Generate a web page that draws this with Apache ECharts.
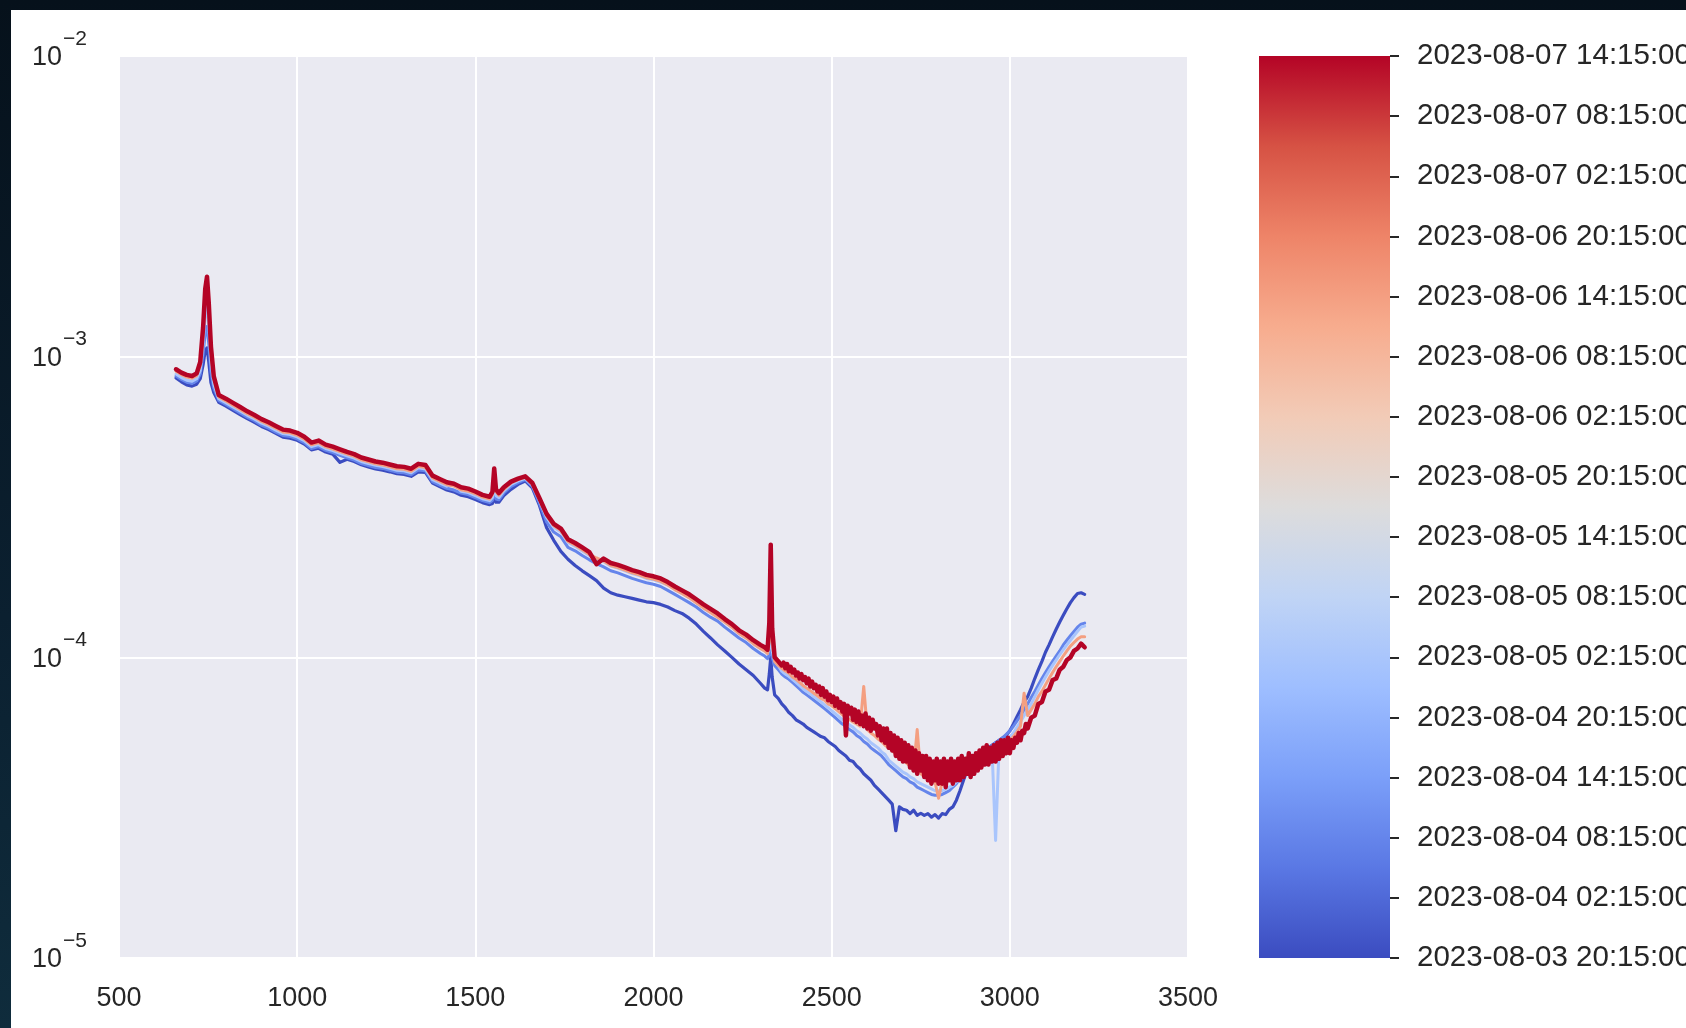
<!DOCTYPE html>
<html>
<head>
<meta charset="utf-8">
<script src="https://cdn.jsdelivr.net/npm/echarts@6.0.0/dist/echarts.min.js"></script>
<style>
  html, body { margin: 0; padding: 0; width: 1686px; height: 1028px; overflow: hidden;
    background: linear-gradient(to bottom, #06111b 0%, #0b2030 60%, #0f2c3c 100%); }
  #chart { position: absolute; left: 11px; top: 10px; width: 1675px; height: 1018px; background: #ffffff; }
</style>
</head>
<body>
<div id="chart"></div>
<script>
// Wavenumber sampling positions (cm^-1) shared by the earlier spectra
const wavenumber = [
  660, 675, 690, 705, 718, 728, 736, 742, 747, 752, 758, 766, 780,
  800, 820, 840, 860, 880, 900, 920, 940, 960, 980, 1000, 1020, 1040, 1060, 1080, 1100, 1120, 1140, 1160, 1180,
  1200, 1220, 1240, 1260, 1280, 1300, 1320, 1340, 1360, 1380, 1400, 1420, 1440, 1460, 1480, 1500, 1520, 1540,
  1548, 1553, 1558, 1566, 1580,
  1600, 1620, 1640, 1660, 1680, 1700, 1720, 1740, 1760, 1780, 1800, 1820, 1840, 1860, 1880, 1900, 1920, 1940,
  1960, 1980, 2000, 2020, 2040, 2060, 2080, 2100, 2120, 2140, 2160, 2180, 2200, 2220, 2240, 2260, 2280, 2300,
  2312, 2320, 2325, 2329, 2333, 2340, 2350,
  2360, 2370, 2380, 2390, 2400, 2410, 2420, 2430, 2440, 2450,
  2460, 2470, 2480, 2490, 2500, 2510, 2520, 2530, 2540, 2550,
  2560, 2570, 2580, 2590, 2600, 2610, 2620, 2630, 2640, 2650,
  2660, 2670, 2680, 2690, 2700, 2710, 2720, 2730, 2740, 2750,
  2760, 2770, 2780, 2790, 2800, 2810, 2820, 2830, 2840, 2850,
  2860, 2870, 2880, 2890, 2900, 2910, 2920, 2930, 2940, 2950,
  2960, 2970, 2980, 2990, 3000, 3010, 3020, 3030, 3040, 3050,
  3060, 3070, 3080, 3090, 3100, 3110, 3120, 3130, 3140, 3150,
  3160, 3170, 3180, 3190, 3200, 3210
];

// Latest spectrum is sampled more finely across its noisy 2355-3050 stretch
const wavenumberLatest = [
  660, 675, 690, 705, 718, 728, 736, 742, 747, 752, 758, 766, 780,
  800, 820, 840, 860, 880, 900, 920, 940, 960, 980, 1000, 1020, 1040, 1060, 1080, 1100, 1120, 1140, 1160, 1180,
  1200, 1220, 1240, 1260, 1280, 1300, 1320, 1340, 1360, 1380, 1400, 1420, 1440, 1460, 1480, 1500, 1520, 1540,
  1548, 1553, 1558, 1566, 1580,
  1600, 1620, 1640, 1660, 1680, 1700, 1720, 1740, 1760, 1780, 1800, 1820, 1840, 1860, 1880, 1900, 1920, 1940,
  1960, 1980, 2000, 2020, 2040, 2060, 2080, 2100, 2120, 2140, 2160, 2180, 2200, 2220, 2240, 2260, 2280, 2300,
  2312, 2320, 2325, 2329, 2333, 2340, 2350,
  2355, 2360, 2365, 2370, 2375, 2380, 2385, 2390, 2395, 2400,
  2405, 2410, 2415, 2420, 2425, 2430, 2435, 2440, 2445, 2450,
  2455, 2460, 2465, 2470, 2475, 2480, 2485, 2490, 2495, 2500,
  2505, 2510, 2515, 2520, 2525, 2530, 2535, 2540, 2545, 2550,
  2555, 2560, 2565, 2570, 2575, 2580, 2585, 2590, 2595, 2600,
  2605, 2610, 2615, 2620, 2625, 2630, 2635, 2640, 2645, 2650,
  2655, 2660, 2665, 2670, 2675, 2680, 2685, 2690, 2695, 2700,
  2705, 2710, 2715, 2720, 2725, 2730, 2735, 2740, 2745, 2750,
  2755, 2760, 2765, 2770, 2775, 2780, 2785, 2790, 2795, 2800,
  2805, 2810, 2815, 2820, 2825, 2830, 2835, 2840, 2845, 2850,
  2855, 2860, 2865, 2870, 2875, 2880, 2885, 2890, 2895, 2900,
  2905, 2910, 2915, 2920, 2925, 2930, 2935, 2940, 2945, 2950,
  2955, 2960, 2965, 2970, 2975, 2980, 2985, 2990, 2995, 3000,
  3005, 3010, 3015, 3020, 3025, 3030, 3035, 3040, 3045, 3050,
  3060, 3070, 3080, 3090, 3100, 3110, 3120, 3130, 3140, 3150,
  3160, 3170, 3180, 3190, 3200, 3210
];

// Spectra, in units of 1e-4
const UNIT = 1e-4;

const spec_0803_2015 = [
  8.50, 8.25, 8.05, 7.98, 8.10, 8.45, 9.40, 10.5, 10.7, 9.6, 8.2, 7.6, 7.05,
  6.85, 6.63, 6.42, 6.22, 6.05, 5.86, 5.72, 5.56, 5.40, 5.36, 5.27, 5.12, 4.90, 4.96, 4.82, 4.74, 4.45, 4.56, 4.48, 4.37,
  4.30, 4.23, 4.19, 4.14, 4.08, 4.06, 4.00, 4.14, 4.12, 3.80, 3.70, 3.60, 3.55, 3.46, 3.42, 3.35, 3.27, 3.22,
  3.25, 3.45, 3.28, 3.28, 3.45,
  3.62, 3.76, 3.86, 3.66, 3.20, 2.70, 2.45, 2.25, 2.12, 2.02, 1.94, 1.87, 1.80, 1.70, 1.64, 1.61, 1.59, 1.57,
  1.55, 1.53, 1.52, 1.50, 1.47, 1.43, 1.40, 1.35, 1.29, 1.22, 1.16, 1.10, 1.05, 1.00, 0.95, 0.91, 0.87, 0.82,
  0.79, 0.78, 0.88, 1.00, 0.86, 0.75, 0.73,
  0.70, 0.68, 0.655, 0.64, 0.62, 0.61, 0.60, 0.585, 0.575, 0.565,
  0.555, 0.545, 0.54, 0.525, 0.515, 0.505, 0.49, 0.48, 0.47, 0.455,
  0.45, 0.435, 0.425, 0.41, 0.40, 0.39, 0.375, 0.365, 0.355, 0.345,
  0.335, 0.325, 0.265, 0.318, 0.312, 0.31, 0.302, 0.31, 0.298, 0.303,
  0.298, 0.302, 0.294, 0.30, 0.292, 0.302, 0.30, 0.312, 0.318, 0.335,
  0.36, 0.39, 0.42, 0.44, 0.455, 0.47, 0.48, 0.49, 0.50, 0.51,
  0.52, 0.53, 0.54, 0.55, 0.57, 0.60, 0.635, 0.67, 0.71, 0.74,
  0.79, 0.85, 0.91, 0.97, 1.04, 1.10, 1.17, 1.24, 1.31, 1.38,
  1.45, 1.52, 1.58, 1.63, 1.64, 1.62
];

const spec_0804_0815 = [
  8.62, 8.40, 8.22, 8.15, 8.30, 8.75, 10.2, 12.0, 12.6, 11.0, 8.9, 7.85, 7.15,
  6.93, 6.71, 6.50, 6.29, 6.12, 5.92, 5.78, 5.61, 5.47, 5.43, 5.33, 5.18, 4.95, 5.02, 4.88, 4.80, 4.70, 4.61, 4.53, 4.41,
  4.34, 4.28, 4.25, 4.19, 4.13, 4.11, 4.05, 4.20, 4.17, 3.84, 3.74, 3.65, 3.60, 3.52, 3.48, 3.40, 3.32, 3.27,
  3.33, 3.62, 3.36, 3.34, 3.52,
  3.70, 3.81, 3.90, 3.70, 3.25, 2.82, 2.61, 2.52, 2.32, 2.26, 2.18, 2.11, 2.05, 2.00, 1.94, 1.91, 1.87, 1.83,
  1.80, 1.77, 1.75, 1.72, 1.67, 1.62, 1.57, 1.52, 1.47, 1.41, 1.36, 1.32, 1.26, 1.21, 1.16, 1.12, 1.07, 1.03,
  1.01, 0.99, 1.02, 1.10, 1.00, 0.94, 0.91,
  0.88, 0.86, 0.845, 0.825, 0.805, 0.785, 0.765, 0.75, 0.735, 0.72,
  0.705, 0.69, 0.675, 0.66, 0.645, 0.63, 0.615, 0.60, 0.59, 0.575,
  0.565, 0.55, 0.54, 0.525, 0.515, 0.50, 0.49, 0.48, 0.47, 0.455,
  0.44, 0.43, 0.42, 0.41, 0.40, 0.395, 0.385, 0.38, 0.37, 0.365,
  0.36, 0.355, 0.35, 0.348, 0.348, 0.35, 0.355, 0.36, 0.37, 0.38,
  0.395, 0.41, 0.43, 0.445, 0.46, 0.47, 0.48, 0.49, 0.50, 0.51,
  0.52, 0.53, 0.54, 0.555, 0.57, 0.59, 0.615, 0.64, 0.67, 0.70,
  0.735, 0.77, 0.81, 0.85, 0.89, 0.93, 0.97, 1.01, 1.05, 1.10,
  1.14, 1.18, 1.22, 1.26, 1.29, 1.30
];

const spec_0805_0215 = [
  8.75, 8.52, 8.35, 8.28, 8.45, 9.0, 11.0, 13.8, 15.0, 12.5, 9.6, 8.1, 7.25,
  7.03, 6.81, 6.60, 6.38, 6.21, 6.01, 5.87, 5.70, 5.55, 5.51, 5.41, 5.26, 5.02, 5.10, 4.95, 4.87, 4.77, 4.68, 4.60, 4.48,
  4.41, 4.35, 4.31, 4.25, 4.19, 4.17, 4.11, 4.27, 4.23, 3.90, 3.80, 3.71, 3.80, 3.57, 3.53, 3.45, 3.37, 3.32,
  3.40, 3.80, 3.45, 3.40, 3.58,
  3.76, 3.86, 3.94, 3.74, 3.32, 2.92, 2.71, 2.61, 2.41, 2.34, 2.26, 2.18, 2.12, 2.08, 2.01, 1.98, 1.94, 1.90,
  1.87, 1.83, 1.81, 1.78, 1.74, 1.68, 1.63, 1.58, 1.52, 1.46, 1.41, 1.37, 1.31, 1.26, 1.20, 1.16, 1.11, 1.07,
  1.05, 1.03, 1.08, 1.20, 1.05, 0.97, 0.94,
  0.90, 0.88, 0.865, 0.845, 0.825, 0.805, 0.785, 0.77, 0.755, 0.74,
  0.725, 0.71, 0.695, 0.68, 0.665, 0.65, 0.635, 0.62, 0.61, 0.595,
  0.585, 0.57, 0.56, 0.545, 0.535, 0.52, 0.51, 0.50, 0.485, 0.475,
  0.455, 0.445, 0.435, 0.425, 0.415, 0.41, 0.40, 0.395, 0.385, 0.38,
  0.375, 0.37, 0.365, 0.36, 0.36, 0.36, 0.365, 0.37, 0.375, 0.385,
  0.395, 0.41, 0.425, 0.44, 0.455, 0.465, 0.475, 0.48, 0.49, 0.495,
  0.246, 0.51, 0.52, 0.53, 0.545, 0.56, 0.585, 0.61, 0.64, 0.67,
  0.70, 0.74, 0.78, 0.82, 0.86, 0.90, 0.94, 0.98, 1.02, 1.06,
  1.10, 1.14, 1.18, 1.22, 1.26, 1.27
];

const spec_0806_1415 = [
  8.95, 8.72, 8.55, 8.48, 8.65, 9.35, 12.0, 16.0, 17.5, 14.2, 10.3, 8.45, 7.35,
  7.12, 6.90, 6.68, 6.46, 6.29, 6.09, 5.94, 5.78, 5.62, 5.58, 5.48, 5.32, 5.09, 5.17, 5.01, 4.93, 4.83, 4.74, 4.66, 4.54,
  4.47, 4.40, 4.36, 4.30, 4.24, 4.22, 4.16, 4.32, 4.28, 3.95, 3.85, 3.75, 3.71, 3.61, 3.57, 3.50, 3.41, 3.36,
  3.48, 4.05, 3.55, 3.46, 3.62,
  3.80, 3.90, 3.97, 3.77, 3.35, 2.96, 2.74, 2.64, 2.43, 2.36, 2.28, 2.20, 2.14, 2.09, 2.02, 1.99, 1.95, 1.91,
  1.88, 1.84, 1.82, 1.79, 1.74, 1.68, 1.63, 1.58, 1.52, 1.46, 1.41, 1.36, 1.31, 1.26, 1.20, 1.16, 1.11, 1.07,
  1.05, 1.03, 1.15, 1.60, 1.12, 0.97, 0.94,
  0.92, 0.90, 0.885, 0.86, 0.845, 0.825, 0.805, 0.79, 0.775, 0.76,
  0.745, 0.73, 0.72, 0.70, 0.69, 0.675, 0.66, 0.645, 0.635, 0.62,
  0.61, 0.60, 0.59, 0.80, 0.575, 0.56, 0.55, 0.535, 0.525, 0.51,
  0.50, 0.49, 0.475, 0.465, 0.455, 0.445, 0.435, 0.425, 0.575, 0.41,
  0.40, 0.395, 0.39, 0.385, 0.34, 0.385, 0.39, 0.395, 0.40, 0.41,
  0.42, 0.43, 0.44, 0.45, 0.46, 0.465, 0.475, 0.48, 0.49, 0.495,
  0.50, 0.505, 0.51, 0.52, 0.53, 0.545, 0.565, 0.59, 0.76, 0.64,
  0.67, 0.70, 0.74, 0.77, 0.81, 0.85, 0.89, 0.93, 0.97, 1.01,
  1.05, 1.09, 1.12, 1.15, 1.17, 1.17
];

const spec_0807_1415 = [
  9.08, 8.85, 8.70, 8.62, 8.80, 9.60, 12.5, 16.8, 18.45, 15.0, 10.8, 8.6, 7.45,
  7.25, 7.02, 6.80, 6.58, 6.40, 6.20, 6.05, 5.88, 5.72, 5.68, 5.58, 5.42, 5.18, 5.26, 5.10, 5.02, 4.92, 4.82, 4.74, 4.62,
  4.55, 4.48, 4.44, 4.38, 4.32, 4.30, 4.24, 4.40, 4.36, 4.02, 3.92, 3.82, 3.78, 3.68, 3.64, 3.56, 3.47, 3.42,
  3.55, 4.25, 3.62, 3.52, 3.68,
  3.84, 3.93, 4.00, 3.80, 3.38, 3.00, 2.78, 2.68, 2.47, 2.40, 2.32, 2.24, 2.04, 2.13, 2.06, 2.03, 1.99, 1.95,
  1.92, 1.88, 1.86, 1.83, 1.78, 1.72, 1.67, 1.62, 1.56, 1.50, 1.45, 1.40, 1.34, 1.29, 1.23, 1.19, 1.14, 1.10,
  1.08, 1.06, 1.30, 2.37, 1.25, 1.00, 0.97,
  0.97, 0.94, 0.96, 0.92, 0.95, 0.90, 0.93, 0.89, 0.91, 0.87,
  0.89, 0.85, 0.88, 0.84, 0.86, 0.82, 0.85, 0.80, 0.83, 0.79,
  0.81, 0.77, 0.80, 0.75, 0.79, 0.74, 0.77, 0.72, 0.75, 0.71,
  0.74, 0.69, 0.73, 0.68, 0.71, 0.66, 0.70, 0.55, 0.69, 0.65,
  0.68, 0.62, 0.67, 0.61, 0.66, 0.60, 0.64, 0.59, 0.65, 0.58,
  0.63, 0.57, 0.62, 0.58, 0.60, 0.55, 0.59, 0.53, 0.58, 0.52,
  0.58, 0.50, 0.56, 0.49, 0.55, 0.47, 0.54, 0.46, 0.53, 0.45,
  0.52, 0.45, 0.51, 0.43, 0.50, 0.42, 0.49, 0.41, 0.48, 0.42,
  0.47, 0.40, 0.47, 0.39, 0.46, 0.38, 0.45, 0.39, 0.46, 0.38,
  0.45, 0.38, 0.46, 0.37, 0.45, 0.39, 0.46, 0.38, 0.45, 0.39,
  0.46, 0.39, 0.47, 0.40, 0.46, 0.41, 0.48, 0.40, 0.47, 0.41,
  0.48, 0.42, 0.49, 0.43, 0.50, 0.44, 0.51, 0.44, 0.50, 0.45,
  0.51, 0.45, 0.52, 0.46, 0.53, 0.47, 0.53, 0.48, 0.54, 0.48,
  0.53, 0.50, 0.54, 0.52, 0.56, 0.53, 0.57, 0.56, 0.60, 0.58,
  0.63, 0.64, 0.70, 0.71, 0.77, 0.78, 0.84, 0.85, 0.91, 0.93,
  0.98, 1.00, 1.05, 1.07, 1.11, 1.08
];

// Acquisition time of each spectrum, drawn in this order (latest on top)
const spectraTimes = [
  '2023-08-03 20:15:00', '2023-08-04 08:15:00', '2023-08-05 02:15:00',
  '2023-08-06 14:15:00', '2023-08-07 14:15:00'
];
const spectraValues = [spec_0803_2015, spec_0804_0815, spec_0805_0215, spec_0806_1415, spec_0807_1415];
const spectraGrids = [wavenumber, wavenumber, wavenumber, wavenumber, wavenumberLatest];
const spectraWidths = [3.2, 3, 3, 3, 4.5];

// Colour bar tick labels, bottom to top, every 6 hours
const colorbarLabels = [
  '2023-08-03 20:15:00', '2023-08-04 02:15:00', '2023-08-04 08:15:00', '2023-08-04 14:15:00',
  '2023-08-04 20:15:00', '2023-08-05 02:15:00', '2023-08-05 08:15:00', '2023-08-05 14:15:00',
  '2023-08-05 20:15:00', '2023-08-06 02:15:00', '2023-08-06 08:15:00', '2023-08-06 14:15:00',
  '2023-08-06 20:15:00', '2023-08-07 02:15:00', '2023-08-07 08:15:00', '2023-08-07 14:15:00'
];
const TICK_HOURS = 6;

// coolwarm colour map
const coolwarm = ['#3b4cc0', '#5a78e4', '#7b9ff9', '#9ebeff', '#c0d4f5', '#dddcdc',
                  '#f2cbb7', '#f7ac8e', '#ee8468', '#d65244', '#b40426'];

const TEXT = '#262626';
const FONT = '"Liberation Sans", Arial, Helvetica, sans-serif';

function hoursSince(a, b) {
  const pa = Date.parse(a.replace(' ', 'T') + 'Z');
  const pb = Date.parse(b.replace(' ', 'T') + 'Z');
  return (pb - pa) / 3600000;
}
const spanHours = hoursSince(colorbarLabels[0], colorbarLabels[colorbarLabels.length - 1]);

const lineSeries = spectraValues.map((vals, i) => {
  const frac = hoursSince(colorbarLabels[0], spectraTimes[i]) / spanHours;
  const grid = spectraGrids[i];
  return {
    type: 'line',
    name: spectraTimes[i],
    xAxisIndex: 0,
    yAxisIndex: 0,
    showSymbol: false,
    symbol: 'none',
    silent: true,
    z: 2 + i,
    lineStyle: { color: echarts.color.lerp(frac, coolwarm), width: spectraWidths[i], cap: 'round', join: 'round' },
    data: grid.map((w, k) => [w, vals[k] * UNIT])
  };
});

const colorbarSeries = {
  type: 'bar',
  xAxisIndex: 1,
  yAxisIndex: 1,
  silent: true,
  barWidth: '100%',
  data: [spanHours],
  itemStyle: {
    color: {
      type: 'linear', x: 0, y: 0, x2: 0, y2: 1,
      colorStops: coolwarm.slice().reverse().map((c, i) => ({ offset: i / (coolwarm.length - 1), color: c }))
    }
  }
};

const chart = echarts.init(document.getElementById('chart'), null, { renderer: 'canvas', width: 1675, height: 1018 });

chart.setOption({
  animation: false,
  backgroundColor: '#ffffff',
  grid: [
    { left: 108, top: 46, width: 1069, height: 902, containLabel: false, outerBoundsMode: 'none',
      show: true, backgroundColor: '#eaeaf2', borderWidth: 0 },
    { left: 1248, top: 46, width: 131, height: 902, containLabel: false, outerBoundsMode: 'none' }
  ],
  xAxis: [
    {
      type: 'value', gridIndex: 0, min: 500, max: 3500, interval: 500,
      axisLine: { show: false }, axisTick: { show: false },
      splitLine: { show: true, lineStyle: { color: '#ffffff', width: 2 } },
      axisLabel: { color: TEXT, fontSize: 27, fontFamily: FONT, margin: 27,
                   formatter: function (v) { return String(v); } }
    },
    {
      type: 'category', gridIndex: 1, data: ['cb'], show: false, boundaryGap: true
    }
  ],
  yAxis: [
    {
      type: 'log', gridIndex: 0, logBase: 10, min: 1e-5, max: 1e-2,
      axisLine: { show: false }, axisTick: { show: false },
      splitLine: { show: true, lineStyle: { color: '#ffffff', width: 2 } },
      axisLabel: {
        margin: 32,
        formatter: function (v) {
          const e = Math.round(Math.log10(v));
          return '{b|10}{e|\u2212' + (-e) + '}';
        },
        rich: {
          b: { color: TEXT, fontSize: 27, fontFamily: FONT, padding: [4, 0, 0, 0] },
          e: { color: TEXT, fontSize: 21, fontFamily: FONT, padding: [0, 0, 34, 1] }
        }
      }
    },
    {
      type: 'value', gridIndex: 1, position: 'right', min: 0, max: spanHours, interval: TICK_HOURS,
      axisLine: { show: false },
      splitLine: { show: false },
      axisTick: { show: true, length: 9, lineStyle: { color: TEXT, width: 2 } },
      axisLabel: {
        color: TEXT, fontSize: 29.5, fontFamily: FONT, margin: 27,
        formatter: function (v) { return colorbarLabels[Math.round(v / TICK_HOURS)] || ''; }
      }
    }
  ],
  series: lineSeries.concat([colorbarSeries])
});
</script>
</body>
</html>
